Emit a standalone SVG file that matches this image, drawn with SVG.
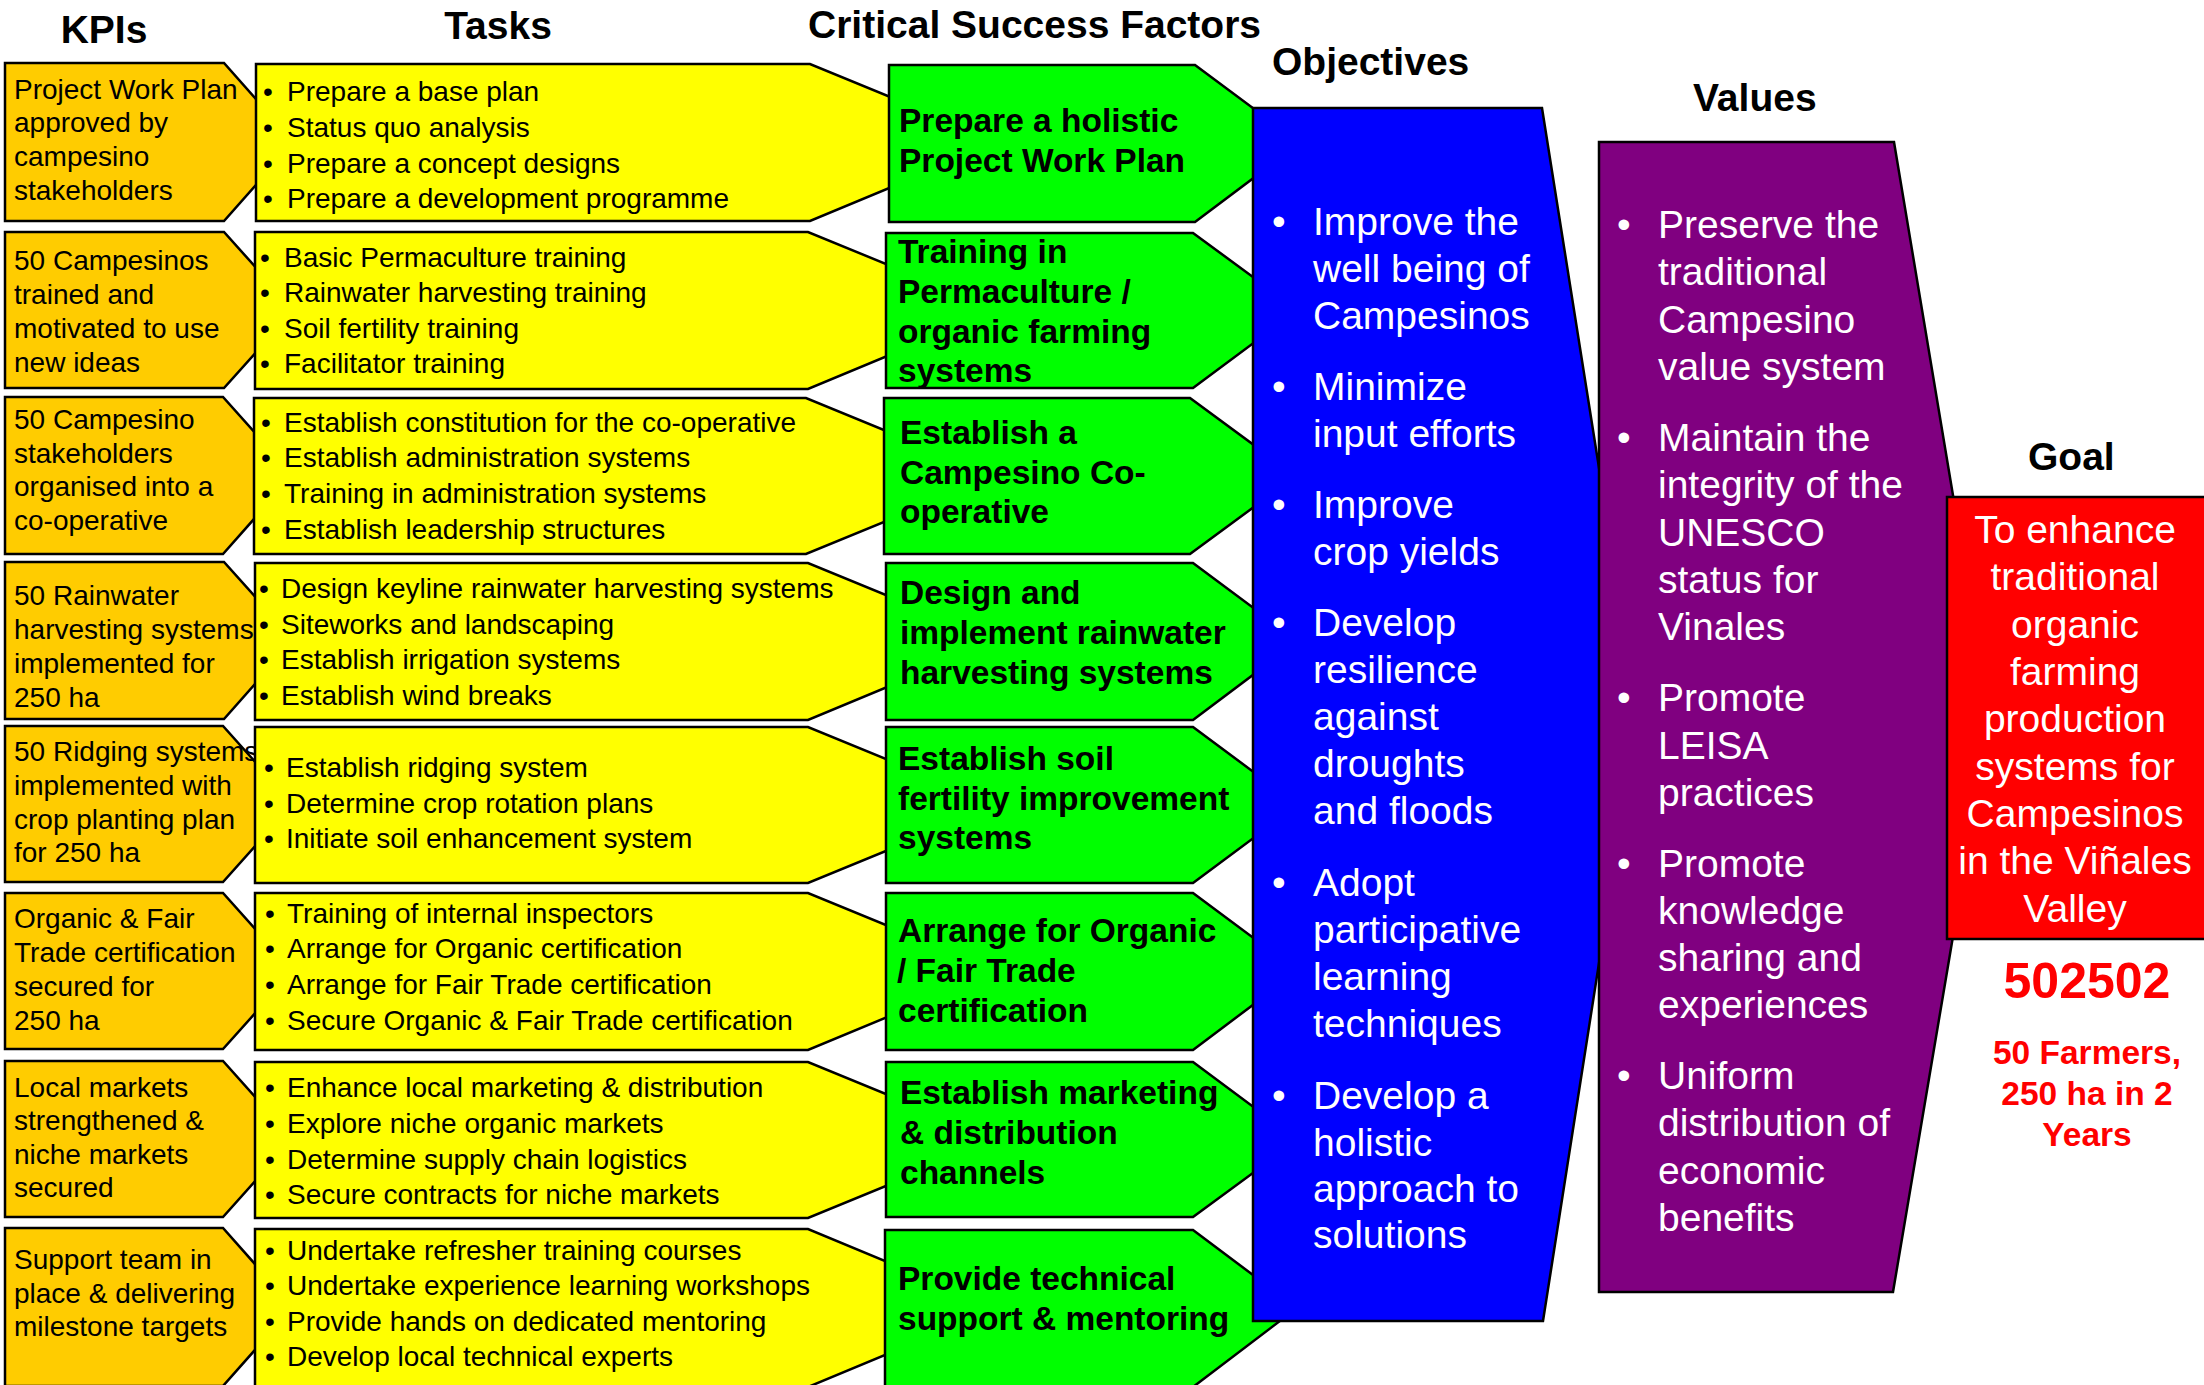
<svg xmlns="http://www.w3.org/2000/svg" width="2204" height="1385" viewBox="0 0 2204 1385">
  <defs>
    <style>
      .shape { stroke: #000; stroke-width: 2.5; stroke-linejoin: miter; }
      .kpi { fill: #FFCC00; }
      .task { fill: #FFFF00; }
      .csf { fill: #00FF00; }
      .obj { fill: #0000FF; }
      .val { fill: #800080; }
      .goal { fill: #FF0000; }
      text { font-family: "Liberation Sans", Arial, Helvetica, sans-serif; }
      .head { font-size: 39px; font-weight: bold; fill: #000; }
      .small { font-size: 28px; fill: #000; }
      .csft { font-size: 33.5px; font-weight: bold; fill: #000; }
      .big { font-size: 39px; fill: #fff; }
      .goalt { font-size: 39px; fill: #fff; text-anchor: middle; }
      .num { font-size: 50px; font-weight: bold; fill: #FF0000; text-anchor: middle; }
      .sub { font-size: 33.5px; font-weight: bold; fill: #FF0000; text-anchor: middle; }
    </style>
  </defs>

  <rect width="2204" height="1385" fill="#fff"/>

  <!-- column headings -->
  <g id="headings">
    <text class="head" x="104" y="43" text-anchor="middle">KPIs</text>
    <text class="head" x="498" y="39" text-anchor="middle">Tasks</text>
    <text class="head" x="808" y="38">Critical Success Factors</text>
    <text class="head" x="1272" y="75">Objectives</text>
    <text class="head" x="1693" y="111">Values</text>
    <text class="head" x="2028" y="470">Goal</text>
  </g>

  <!-- KPI column -->
  <g id="kpi-1">
    <polygon class="shape kpi" points="5,63 224,63 294,142 224,221 5,221"/>
    <text class="small" x="14" y="99">Project Work Plan</text>
    <text class="small" x="14" y="132">approved by</text>
    <text class="small" x="14" y="166">campesino</text>
    <text class="small" x="14" y="200">stakeholders</text>
  </g>
  <g id="kpi-2">
    <polygon class="shape kpi" points="5,232 224,232 294,310 224,388 5,388"/>
    <text class="small" x="14" y="270">50 Campesinos</text>
    <text class="small" x="14" y="304">trained and</text>
    <text class="small" x="14" y="338">motivated to use</text>
    <text class="small" x="14" y="372">new ideas</text>
  </g>
  <g id="kpi-3">
    <polygon class="shape kpi" points="5,397 223,397 293,475 223,554 5,554"/>
    <text class="small" x="14" y="429">50 Campesino</text>
    <text class="small" x="14" y="463">stakeholders</text>
    <text class="small" x="14" y="496">organised into a</text>
    <text class="small" x="14" y="530">co-operative</text>
  </g>
  <g id="kpi-4">
    <polygon class="shape kpi" points="5,562 224,562 294,640 224,719 5,719"/>
    <text class="small" x="14" y="605">50 Rainwater</text>
    <text class="small" x="14" y="639">harvesting systems</text>
    <text class="small" x="14" y="673">implemented for</text>
    <text class="small" x="14" y="707">250 ha</text>
  </g>
  <g id="kpi-5">
    <polygon class="shape kpi" points="5,726 223,726 293,804 223,882 5,882"/>
    <text class="small" x="14" y="761">50 Ridging systems</text>
    <text class="small" x="14" y="795">implemented with</text>
    <text class="small" x="14" y="829">crop planting plan</text>
    <text class="small" x="14" y="862">for 250 ha</text>
  </g>
  <g id="kpi-6">
    <polygon class="shape kpi" points="5,893 223,893 293,971 223,1049 5,1049"/>
    <text class="small" x="14" y="928">Organic &amp; Fair</text>
    <text class="small" x="14" y="962">Trade certification</text>
    <text class="small" x="14" y="996">secured for</text>
    <text class="small" x="14" y="1030">250 ha</text>
  </g>
  <g id="kpi-7">
    <polygon class="shape kpi" points="5,1061 223,1061 293,1139 223,1217 5,1217"/>
    <text class="small" x="14" y="1097">Local markets</text>
    <text class="small" x="14" y="1130">strengthened &amp;</text>
    <text class="small" x="14" y="1164">niche markets</text>
    <text class="small" x="14" y="1197">secured</text>
  </g>
  <g id="kpi-8">
    <polygon class="shape kpi" points="5,1228 223,1228 293,1307 223,1386 5,1386"/>
    <text class="small" x="14" y="1269">Support team in</text>
    <text class="small" x="14" y="1303">place &amp; delivering</text>
    <text class="small" x="14" y="1336">milestone targets</text>
  </g>

  <!-- Task column -->
  <g id="tasks-1">
    <polygon class="shape task" points="256,64 810,64 1000,142 810,221 256,221"/>
    <text class="small" x="263" y="101">•</text><text class="small" x="287" y="101">Prepare a base plan</text>
    <text class="small" x="263" y="137">•</text><text class="small" x="287" y="137">Status quo analysis</text>
    <text class="small" x="263" y="173">•</text><text class="small" x="287" y="173">Prepare a concept designs</text>
    <text class="small" x="263" y="208">•</text><text class="small" x="287" y="208">Prepare a development programme</text>
  </g>
  <g id="tasks-2">
    <polygon class="shape task" points="255,232 808,232 998,310 808,389 255,389"/>
    <text class="small" x="260" y="267">•</text><text class="small" x="284" y="267">Basic Permaculture training</text>
    <text class="small" x="260" y="302">•</text><text class="small" x="284" y="302">Rainwater harvesting training</text>
    <text class="small" x="260" y="338">•</text><text class="small" x="284" y="338">Soil fertility training</text>
    <text class="small" x="260" y="373">•</text><text class="small" x="284" y="373">Facilitator training</text>
  </g>
  <g id="tasks-3">
    <polygon class="shape task" points="254,398 806,398 996,476 806,554 254,554"/>
    <text class="small" x="261" y="432">•</text><text class="small" x="284" y="432">Establish constitution for the co-operative</text>
    <text class="small" x="261" y="467">•</text><text class="small" x="284" y="467">Establish administration systems</text>
    <text class="small" x="261" y="503">•</text><text class="small" x="284" y="503">Training in administration systems</text>
    <text class="small" x="261" y="539">•</text><text class="small" x="284" y="539">Establish leadership structures</text>
  </g>
  <g id="tasks-4">
    <polygon class="shape task" points="255,563 808,563 998,641 808,720 255,720"/>
    <text class="small" x="259" y="598">•</text><text class="small" x="281" y="598">Design keyline rainwater harvesting systems</text>
    <text class="small" x="259" y="634">•</text><text class="small" x="281" y="634">Siteworks and landscaping</text>
    <text class="small" x="259" y="669">•</text><text class="small" x="281" y="669">Establish irrigation systems</text>
    <text class="small" x="259" y="705">•</text><text class="small" x="281" y="705">Establish wind breaks</text>
  </g>
  <g id="tasks-5">
    <polygon class="shape task" points="255,727 808,727 998,805 808,883 255,883"/>
    <text class="small" x="264" y="777">•</text><text class="small" x="286" y="777">Establish ridging system</text>
    <text class="small" x="264" y="813">•</text><text class="small" x="286" y="813">Determine crop rotation plans</text>
    <text class="small" x="264" y="848">•</text><text class="small" x="286" y="848">Initiate soil enhancement system</text>
  </g>
  <g id="tasks-6">
    <polygon class="shape task" points="255,893 808,893 998,971 808,1050 255,1050"/>
    <text class="small" x="265" y="923">•</text><text class="small" x="287" y="923">Training of internal inspectors</text>
    <text class="small" x="265" y="958">•</text><text class="small" x="287" y="958">Arrange for Organic certification</text>
    <text class="small" x="265" y="994">•</text><text class="small" x="287" y="994">Arrange for Fair Trade certification</text>
    <text class="small" x="265" y="1030">•</text><text class="small" x="287" y="1030">Secure Organic &amp; Fair Trade certification</text>
  </g>
  <g id="tasks-7">
    <polygon class="shape task" points="255,1062 808,1062 998,1140 808,1218 255,1218"/>
    <text class="small" x="265" y="1097">•</text><text class="small" x="287" y="1097">Enhance local marketing &amp; distribution</text>
    <text class="small" x="265" y="1133">•</text><text class="small" x="287" y="1133">Explore niche organic markets</text>
    <text class="small" x="265" y="1169">•</text><text class="small" x="287" y="1169">Determine supply chain logistics</text>
    <text class="small" x="265" y="1204">•</text><text class="small" x="287" y="1204">Secure contracts for niche markets</text>
  </g>
  <g id="tasks-8">
    <polygon class="shape task" points="255,1229 808,1229 998,1308 808,1387 255,1387"/>
    <text class="small" x="265" y="1260">•</text><text class="small" x="287" y="1260">Undertake refresher training courses</text>
    <text class="small" x="265" y="1295">•</text><text class="small" x="287" y="1295">Undertake experience learning workshops</text>
    <text class="small" x="265" y="1331">•</text><text class="small" x="287" y="1331">Provide hands on dedicated mentoring</text>
    <text class="small" x="265" y="1366">•</text><text class="small" x="287" y="1366">Develop local technical experts</text>
  </g>

  <!-- Critical success factor column -->
  <g id="csf-1">
    <polygon class="shape csf" points="889,65 1195,65 1300,143 1195,222 889,222"/>
    <text class="csft" x="899" y="132">Prepare a holistic</text>
    <text class="csft" x="899" y="172">Project Work Plan</text>
  </g>
  <g id="csf-2">
    <polygon class="shape csf" points="886,233 1193,233 1298,310 1193,388 886,388"/>
    <text class="csft" x="898" y="263">Training in</text>
    <text class="csft" x="898" y="303">Permaculture /</text>
    <text class="csft" x="898" y="343">organic farming</text>
    <text class="csft" x="898" y="382">systems</text>
  </g>
  <g id="csf-3">
    <polygon class="shape csf" points="884,398 1190,398 1296,476 1190,554 884,554"/>
    <text class="csft" x="900" y="444">Establish a</text>
    <text class="csft" x="900" y="484">Campesino Co-</text>
    <text class="csft" x="900" y="523">operative</text>
  </g>
  <g id="csf-4">
    <polygon class="shape csf" points="886,563 1193,563 1298,641 1193,720 886,720"/>
    <text class="csft" x="900" y="604">Design and</text>
    <text class="csft" x="900" y="644">implement rainwater</text>
    <text class="csft" x="900" y="684">harvesting systems</text>
  </g>
  <g id="csf-5">
    <polygon class="shape csf" points="886,727 1193,727 1298,805 1193,883 886,883"/>
    <text class="csft" x="898" y="770">Establish soil</text>
    <text class="csft" x="898" y="810">fertility improvement</text>
    <text class="csft" x="898" y="849">systems</text>
  </g>
  <g id="csf-6">
    <polygon class="shape csf" points="886,893 1193,893 1298,971 1193,1050 886,1050"/>
    <text class="csft" x="898" y="942">Arrange for Organic</text>
    <text class="csft" x="897" y="982">/ Fair Trade</text>
    <text class="csft" x="898" y="1022">certification</text>
  </g>
  <g id="csf-7">
    <polygon class="shape csf" points="886,1062 1193,1062 1298,1140 1193,1217 886,1217"/>
    <text class="csft" x="900" y="1104">Establish marketing</text>
    <text class="csft" x="900" y="1144">&amp; distribution</text>
    <text class="csft" x="900" y="1184">channels</text>
  </g>
  <g id="csf-8">
    <polygon class="shape csf" points="885,1230 1193,1230 1297,1308 1193,1387 885,1387"/>
    <text class="csft" x="898" y="1290">Provide technical</text>
    <text class="csft" x="898" y="1330">support &amp; mentoring</text>
  </g>

  <!-- Objectives -->
  <g id="objectives">
    <polygon class="shape obj" points="1253,108 1542,108 1638,714 1543,1321 1253,1321"/>
    <text class="big" x="1272" y="235">•</text>
    <text class="big" x="1313" y="235">Improve the</text>
    <text class="big" x="1313" y="282">well being of</text>
    <text class="big" x="1313" y="329">Campesinos</text>
    <text class="big" x="1272" y="400">•</text>
    <text class="big" x="1313" y="400">Minimize</text>
    <text class="big" x="1313" y="447">input efforts</text>
    <text class="big" x="1272" y="518">•</text>
    <text class="big" x="1313" y="518">Improve</text>
    <text class="big" x="1313" y="565">crop yields</text>
    <text class="big" x="1272" y="636">•</text>
    <text class="big" x="1313" y="636">Develop</text>
    <text class="big" x="1313" y="683">resilience</text>
    <text class="big" x="1313" y="730">against</text>
    <text class="big" x="1313" y="777">droughts</text>
    <text class="big" x="1313" y="824">and floods</text>
    <text class="big" x="1272" y="896">•</text>
    <text class="big" x="1313" y="896">Adopt</text>
    <text class="big" x="1313" y="943">participative</text>
    <text class="big" x="1313" y="990">learning</text>
    <text class="big" x="1313" y="1037">techniques</text>
    <text class="big" x="1272" y="1109">•</text>
    <text class="big" x="1313" y="1109">Develop a</text>
    <text class="big" x="1313" y="1156">holistic</text>
    <text class="big" x="1313" y="1202">approach to</text>
    <text class="big" x="1313" y="1248">solutions</text>
  </g>

  <!-- Values -->
  <g id="values">
    <polygon class="shape val" points="1599,142 1894,142 1990,717 1893,1292 1599,1292"/>
    <text class="big" x="1617" y="238">•</text>
    <text class="big" x="1658" y="238">Preserve the</text>
    <text class="big" x="1658" y="285">traditional</text>
    <text class="big" x="1658" y="333">Campesino</text>
    <text class="big" x="1658" y="380">value system</text>
    <text class="big" x="1617" y="451">•</text>
    <text class="big" x="1658" y="451">Maintain the</text>
    <text class="big" x="1658" y="498">integrity of the</text>
    <text class="big" x="1658" y="546">UNESCO</text>
    <text class="big" x="1658" y="593">status for</text>
    <text class="big" x="1658" y="640">Vinales</text>
    <text class="big" x="1617" y="711">•</text>
    <text class="big" x="1658" y="711">Promote</text>
    <text class="big" x="1658" y="759">LEISA</text>
    <text class="big" x="1658" y="806">practices</text>
    <text class="big" x="1617" y="877">•</text>
    <text class="big" x="1658" y="877">Promote</text>
    <text class="big" x="1658" y="924">knowledge</text>
    <text class="big" x="1658" y="971">sharing and</text>
    <text class="big" x="1658" y="1018">experiences</text>
    <text class="big" x="1617" y="1089">•</text>
    <text class="big" x="1658" y="1089">Uniform</text>
    <text class="big" x="1658" y="1136">distribution of</text>
    <text class="big" x="1658" y="1184">economic</text>
    <text class="big" x="1658" y="1231">benefits</text>
  </g>

  <!-- Goal -->
  <g id="goal">
    <rect class="shape goal" x="1947" y="497" width="270" height="442"/>
    <text class="goalt" x="2075" y="543">To enhance</text>
    <text class="goalt" x="2075" y="590">traditional</text>
    <text class="goalt" x="2075" y="638">organic</text>
    <text class="goalt" x="2075" y="685">farming</text>
    <text class="goalt" x="2075" y="732">production</text>
    <text class="goalt" x="2075" y="780">systems for</text>
    <text class="goalt" x="2075" y="827">Campesinos</text>
    <text class="goalt" x="2075" y="874">in the Viñales</text>
    <text class="goalt" x="2075" y="922">Valley</text>
  </g>

  <g id="goal-target">
    <text class="num" x="2087" y="998">502502</text>
    <text class="sub" x="2087" y="1064">50 Farmers,</text>
    <text class="sub" x="2087" y="1105">250 ha in 2</text>
    <text class="sub" x="2087" y="1146">Years</text>
  </g>
</svg>
